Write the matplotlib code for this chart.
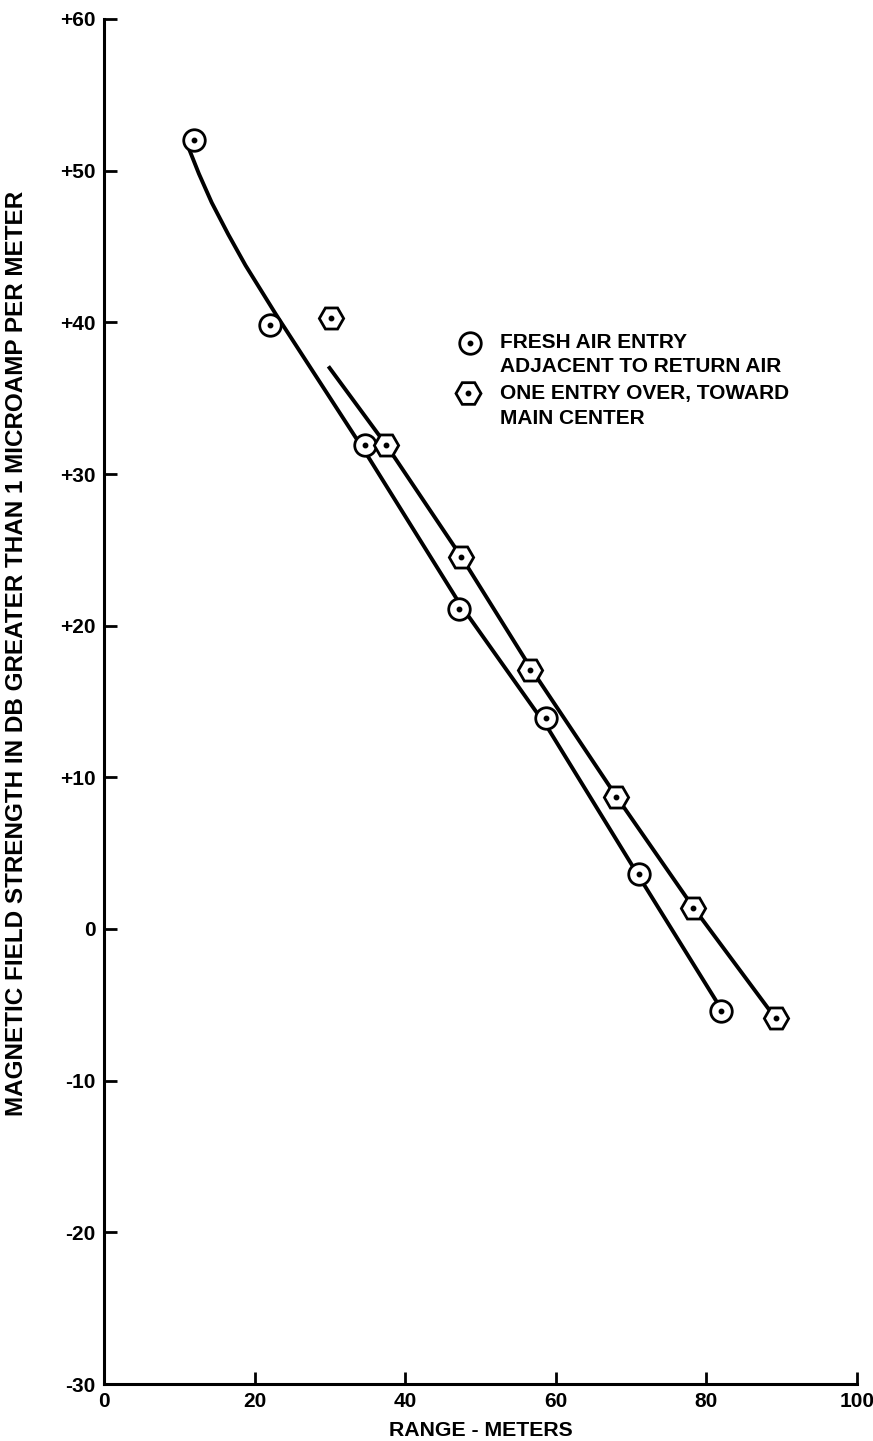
import matplotlib
matplotlib.use("Agg")
import matplotlib.pyplot as plt

plt.rcParams['font.family'] = ['Liberation Sans', 'DejaVu Sans']

# Data points (range in meters, field strength in dB)
fresh_x = [11.9, 22.0, 34.6, 47.1, 58.7, 71.1, 82.0]
fresh_y = [52.0, 39.8, 31.9, 21.1, 13.9, 3.6, -5.4]
over_x = [30.1, 37.4, 47.4, 56.6, 68.0, 78.2, 89.2]
over_y = [40.3, 31.9, 24.5, 17.1, 8.7, 1.4, -5.9]

# Fitted curves
fresh_fit_x = [11.0, 12.6, 14.3, 16.5, 18.8, 22.8, 35.0, 47.3, 59.0, 71.0, 82.0]
fresh_fit_y = [51.8, 49.8, 47.9, 45.8, 43.75, 40.55, 31.2, 21.4, 13.2, 3.5, -5.3]
over_fit_x = [29.8, 37.5, 47.5, 56.8, 68.1, 78.3, 89.2]
over_fit_y = [37.1, 31.9, 24.5, 17.1, 8.7, 1.4, -5.9]

x_ticks = [0, 20, 40, 60, 80, 100]
y_ticks = [-30, -20, -10, 0, 10, 20, 30, 40, 50, 60]
y_tick_labels = ['-30', '-20', '-10', '0', '+10', '+20', '+30', '+40', '+50', '+60']

legend_labels = [["FRESH AIR ENTRY", "ADJACENT TO RETURN AIR"],
                 ["ONE ENTRY OVER, TOWARD", "MAIN CENTER"]]

W, H = 873, 1441
fig = plt.figure(figsize=(W / 100, H / 100), dpi=100)
L, R, T, B = 104, 857, 19, 1384
ax = fig.add_axes([L / W, 1 - B / H, (R - L) / W, (B - T) / H])

lw = 2.8
ax.plot(fresh_fit_x, fresh_fit_y, color='black', lw=lw, zorder=2,
        solid_capstyle='butt', solid_joinstyle='round')
ax.plot(over_fit_x, over_fit_y, color='black', lw=lw, zorder=2,
        solid_capstyle='butt', solid_joinstyle='round')

ax.plot(fresh_x, fresh_y, ls='none', marker='o', ms=15.5, mfc='white', mec='black', mew=2.0, zorder=3)
ax.plot(over_x, over_y, ls='none', marker='H', ms=17.5, mfc='white', mec='black', mew=2.0, zorder=3)
ax.plot(fresh_x + over_x, fresh_y + over_y, ls='none', marker='o', ms=3.2, color='black', zorder=4)

ax.set_xlim(0, 100)
ax.set_ylim(-30, 60)
ax.set_xticks(x_ticks)
ax.set_yticks(y_ticks)
ax.set_yticklabels(y_tick_labels)
for s in ['top', 'right']:
    ax.spines[s].set_visible(False)
for s in ['left', 'bottom']:
    ax.spines[s].set_linewidth(2.2)
ax.tick_params(axis='both', direction='in', length=9, width=2.0, labelsize=15)
ax.tick_params(axis='y', pad=6)
ax.tick_params(axis='x', pad=6)
for lab in ax.get_xticklabels() + ax.get_yticklabels():
    lab.set_fontweight('bold')

ax.set_xlabel("RANGE - METERS", fontsize=15.3, fontweight='bold', labelpad=7)
fig.text(17 / W, 1 - 653 / H, "MAGNETIC FIELD STRENGTH IN DB GREATER THAN 1 MICROAMP PER METER",
         rotation=90, ha='center', va='center', fontsize=17.5, fontweight='bold')

# Legend
def axfrac(px, py):
    return ((px - L) / (R - L), 1 - (py - T) / (B - T))

mx, my = axfrac(470, 343)
ax.plot([mx], [my], transform=ax.transAxes, marker='o', ms=15.5, mfc='white', mec='black', mew=2.0, ls='none', clip_on=False)
ax.plot([mx], [my], transform=ax.transAxes, marker='o', ms=3.2, color='black', ls='none', clip_on=False)
hx, hy = axfrac(468, 393)
ax.plot([hx], [hy], transform=ax.transAxes, marker='H', ms=18, mfc='white', mec='black', mew=2.0, ls='none', clip_on=False)
ax.plot([hx], [hy], transform=ax.transAxes, marker='o', ms=3.2, color='black', ls='none', clip_on=False)

line_y = [[343, 367], [393, 418]]
for labs, ys in zip(legend_labels, line_y):
    for txt, py in zip(labs, ys):
        tx, ty = axfrac(500, py)
        ax.text(tx, ty, txt, transform=ax.transAxes, ha='left', va='center', fontsize=15, fontweight='bold')

fig.savefig("out.png", dpi=100, facecolor='white')
